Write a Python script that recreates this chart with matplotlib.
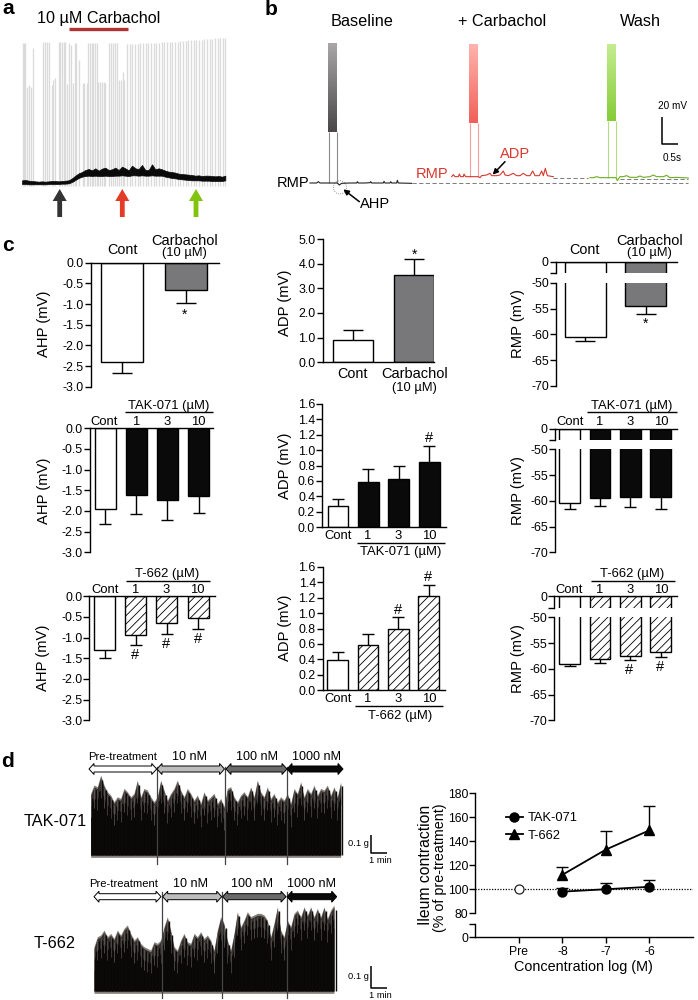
import numpy as np
import matplotlib
matplotlib.use('Agg')
import matplotlib.pyplot as plt
from matplotlib.colors import LinearSegmentedColormap
from matplotlib.patches import Polygon, Circle

plt.rcParams['font.family'] = ['Liberation Sans', 'DejaVu Sans']
plt.rcParams['hatch.linewidth'] = 0.6
W, H = 698, 1000

# ---------- panel a (trace units) ----------
spike_x = [68,72,76,82,88,94,100,130,135,140,147,155,160,165,177,181,186,192,196,201,207,212,220,225,229,236,
           248,253,260,265,270,275,280,285,290,295,300,305,311,316,328,334,340,346,352,358,363,368,373,
           381,389,397,405,413,421,429,437,445,453,461,469,477,485,493,501,509,517,525,533,541,549,557,565,
           573,581,589,597,605,613,621,629,637,645,653,661,669,675]
spike_top = [128,128,128,262,255,262,145,125,125,125,125,255,240,235,125,125,125,125,125,252,128,135,250,130,130,180,
             250,250,250,130,130,130,130,130,130,245,247,247,247,250,128,128,128,128,128,240,240,215,240,
             132,132,132,131,131,130,130,130,129,129,128,128,128,127,127,126,127,126,126,125,124,123,122,121,
             120,121,120,120,119,118,117,116,116,115,115,113,113,113]
trace_top = [541,540,542,543,544,545,544,545,544,543,543,544,543,542,541,535,527,520,516,510,
             507,511,505,512,506,503,510,508,503,510,500,505,511,497,505,507,495,510,510,493,
             508,505,508,512,515,516,518,521,522,523,524,525,527,526,528,527,527,528,529,528,530,527]
trace_bot = [552,552,553,553,553,553,553,553,552,552,552,552,551,551,550,546,540,534,530,528,
             527,528,527,528,528,527,528,528,527,527,526,527,528,526,526,527,526,527,527,526,
             527,527,527,530,532,534,535,537,538,539,540,541,541,541,542,542,542,543,543,543,543,541]

# ---------- panel b ----------
base_x = [150,170,175,180,205,207,232,238,245,270,290,292,295,315,330,332,335,370,372,375,390,392,395,410,412,415,455]
base_y = [549,549,545,549,549,549,549,555,550,549,549,545,549,549,548,545,549,549,544,549,549,545,549,549,541,549,550]
carb_x = [575,580,585,595,598,602,610,612,617,628,655,660,665,680,690,695,700,710,720,730,735,745,760,770,780,790,800,810,818,825,838,845,850,856,862,880]
carb_y = [530,524,530,530,522,530,530,522,530,530,530,533,527,525,520,527,527,527,525,513,525,527,520,527,527,520,527,527,513,527,527,513,527,505,527,530]
wash_x = [990,1000,1010,1020,1042,1068,1072,1080,1090,1100,1110,1130,1140,1150,1170,1180,1190,1210,1220,1230,1250,1285]
wash_y = [533,533,530,533,533,533,542,530,530,527,532,532,528,532,530,525,530,530,526,533,532,534]

# ---------- panel c ----------
ahp1 = [-2.4, -0.66];  ahp1_err = [0.26, 0.31]
adp1 = [0.92, 3.52];   adp1_err = [0.40, 0.65]
rmp1 = [-60.5, -54.6]; rmp1_err = [0.7, 1.4]
ahp2 = [-1.95,-1.62,-1.73,-1.63]; ahp2_err = [0.37,0.46,0.49,0.42]
adp2 = [0.27,0.59,0.63,0.84];     adp2_err = [0.10,0.17,0.17,0.21]
rmp2 = [-60.5,-59.4,-59.2,-59.2]; rmp2_err = [1.0,1.6,2.0,2.4]
ahp3 = [-1.3,-0.94,-0.65,-0.52];  ahp3_err = [0.2,0.24,0.25,0.28]
adp3 = [0.39,0.58,0.8,1.22];      adp3_err = [0.11,0.15,0.15,0.14]
rmp3 = [-59.1,-58.1,-57.6,-56.8]; rmp3_err = [0.4,0.7,0.7,0.9]
doses = ['1', '3', '10']

# ---------- panel d ----------
tak_top = [100,75,80,45,75,95,105,125,110,115,85,95,110,100,60,110,85,90,110,125,110,60,90,120,100,85,60,90,110,85,100,120,105,130,95,120,110,100,130,115,140,85,80,110,125,105,95,110,80,110,60,95,110,80,115,100,125,110,120,100,130,85,100,65,110,85,100,75,105,85,90,75,105,80,110,65]
t662_top = [560,530,525,510,530,520,535,510,525,505,495,520,540,530,550,560,565,570,545,550,540,500,470,510,560,570,540,520,545,550,520,530,515,535,525,540,570,510,470,490,540,570,520,455,500,480,455,470,465,460,460,465,480,530,490,440,510,530,480,500,460,450,470,440,465,440,470,445,470,440,475,450,435]
conc = [-8, -7, -6]
tak_mean = [98, 100, 102];   tak_err = [3, 5.5, 5.5]
t662_mean = [112, 133, 149]; t662_err = [6.5, 15, 20]

fig = plt.figure(figsize=(W/100, H/100), dpi=100)

def axpx(x0, y0, x1, y1, **kw):
    return fig.add_axes([x0/W, 1-y1/H, (x1-x0)/W, (y1-y0)/H], **kw)

pix = axpx(0, 0, W, H)
pix.set_xlim(0, W); pix.set_ylim(H, 0); pix.axis('off'); pix.set_zorder(10); pix.patch.set_alpha(0)

def T(x, y, s, size=9.4, ha='center', va='center', **kw):
    return pix.text(x, y, s, fontsize=size, ha=ha, va=va, **kw)

def L(xs, ys, lw=1.0, c='k', **kw):
    pix.plot(xs, ys, lw=lw, color=c, solid_capstyle='butt', **kw)

for s, x, y in [('a', 2, 14), ('b', 265, 15), ('c', 2, 251), ('d', 1, 767)]:
    T(x, y, s, size=15, ha='left', va='baseline', fontweight='bold')

# ---- a ----
axa = axpx(0, 0, 250, 210); axa.set_xlim(0, 750); axa.set_ylim(630, 0); axa.axis('off')
axa.vlines(spike_x, spike_top, 558, color='#dadada', lw=0.95, zorder=1)
tx = 66 + 10*np.arange(len(trace_top))
axa.fill_between(tx, trace_top, trace_bot, color='#0a0a0a', lw=0.5, zorder=3)
T(98.5, 18, '10 µM Carbachol', size=11.6)
L([69, 127.7], [29, 29], lw=2.4, c='#b03434')

def up_arrow(x, c):
    pix.add_patch(Polygon([(x-2.4,217),(x-2.4,201),(x-7,201),(x,189),(x+7,201),(x+2.4,201),(x+2.4,217)], fc=c, ec='none'))
up_arrow(59.7, '#333333'); up_arrow(122.3, '#e23b28'); up_arrow(196, '#82c30e')

# ---- b ----
axb = axpx(260, 0, 698, 210); axb.set_xlim(0, 1314); axb.set_ylim(630, 0); axb.axis('off')
def burst(x0, x1, top, bot, rmp, c_top, c_bot, thin):
    cm = LinearSegmentedColormap.from_list('g', [c_top, c_bot])
    axb.imshow(np.linspace(0, 1, 60)[:, None], extent=(x0, x1, bot, top), cmap=cm, aspect='auto', zorder=2)
    axb.vlines([x0+2, x1-1], bot, rmp, color=thin, lw=0.8, zorder=1)
burst(205, 232, 130, 397, 549, '#a8a6a6', '#4a4848', '#8a8a8a')
burst(628, 655, 135, 370, 530, '#ffb3ad', '#f2605a', '#f4a09a')
burst(1042, 1068, 132, 362, 533, '#c4ec90', '#86cc38', '#b2de80')
axb.set_xlim(0, 1314); axb.set_ylim(630, 0)
axb.plot(base_x, base_y, color='#222222', lw=0.8)
axb.plot(carb_x, carb_y, color='#d8382e', lw=0.8)
axb.plot(wash_x, wash_y, color='#6aae1e', lw=0.8)
axb.plot([455, 1285], [550, 550], color='#666666', lw=0.6, ls=(0, (5, 3)))
axb.plot([880, 985], [533, 533], color='#666666', lw=0.6, ls=(0, (5, 3)))
axb.plot([1080, 1285], [536, 536], color='#666666', lw=0.6, ls=(0, (5, 3)))
axb.add_patch(Circle((240, 562), 20, fc='none', ec='#6a6a90', lw=0.6, ls=':'))
T(361.7, 21, 'Baseline', size=11.7); T(502, 21, '+ Carbachol', size=11.7); T(640.7, 21, 'Wash', size=11.7)
T(309.5, 182.7, 'RMP', size=10.5, ha='right')
T(448.5, 174, 'RMP', size=10.5, ha='right', color='#d8382e')
T(515, 154, 'ADP', size=10.5, color='#d8382e')
T(375, 203.5, 'AHP', size=10.5)
axb.annotate('', xy=(250, 568), xytext=(298, 605), arrowprops=dict(arrowstyle='-|>', color='k', lw=1.1, mutation_scale=8, shrinkA=0, shrinkB=0))
axb.annotate('', xy=(698, 524), xytext=(735, 485), arrowprops=dict(arrowstyle='-|>', color='k', lw=1.1, mutation_scale=8, shrinkA=0, shrinkB=0))
T(672.3, 106, '20 mV', size=7.2); T(672.3, 158, '0.5s', size=7.2)
L([662.3, 662.3, 677.7], [117.3, 144, 144], lw=1.1)

# ---- c helpers ----
def whisk(ax, xs, vals, errs, sign, cap, lw=1.0):
    for x, v, e in zip(xs, vals, errs):
        ax.plot([x, x], [v, v+sign*e], color='k', lw=lw, zorder=1.5, solid_capstyle='butt')
        ax.plot([x], [v+sign*e], marker='_', color='k', ms=cap, mew=lw, zorder=1.5)

def style(ax, spines):
    for s in ax.spines:
        ax.spines[s].set_visible(s in spines)
        ax.spines[s].set_linewidth(1.0)
    ax.patch.set_alpha(0)
    ax.tick_params(axis='y', length=4, width=1.0, labelsize=8.9, pad=1)
    ax.set_xticks([])

def xpos(axleft, axright, c0, dx):
    return ((axleft-c0)/dx, (axright-c0)/dx)

def draw_bars(ax, vals, colors, hatches, wid):
    xs = np.arange(len(vals))
    for x, v, c, h in zip(xs, vals, colors, hatches):
        ax.bar(x, v, width=wid, facecolor=c, edgecolor='k', lw=1.0, hatch=h, zorder=1)
    return xs

def neg_panel(left, right, ytop, ybot, c0, dx, wid, vals, errs, colors, hatches, cap):
    ax = axpx(left, ytop, right, ybot)
    ax.set_xlim(*xpos(left, right, c0, dx)); ax.set_ylim(-3, 0)
    xs = draw_bars(ax, vals, colors, hatches, wid/dx)
    whisk(ax, xs, vals, errs, -1, cap)
    style(ax, ['left', 'top'])
    ax.set_yticks(np.arange(-3, 0.01, 0.5)); ax.set_yticklabels(['%.1f' % v for v in np.arange(-3, 0.01, 0.5)])
    return ax

def pos_panel(left, right, ytop, ybot, c0, dx, wid, vals, errs, colors, hatches, cap, ymax, step):
    ax = axpx(left, ytop, right, ybot)
    ax.set_xlim(*xpos(left, right, c0, dx)); ax.set_ylim(0, ymax)
    xs = draw_bars(ax, vals, colors, hatches, wid/dx)
    whisk(ax, xs, vals, errs, 1, cap)
    style(ax, ['left', 'bottom'])
    t = np.arange(0, ymax+0.01, step)
    ax.set_yticks(t); ax.set_yticklabels(['%.1f' % v for v in t])
    return ax

def rmp_panel(left, right, y0, ybrk, y50, y70, c0, dx, wid, vals, errs, colors, hatches, cap):
    up = axpx(left, y0, right, ybrk); lo = axpx(left, y50, right, y70)
    for ax in (up, lo):
        ax.set_xlim(*xpos(left, right, c0, dx))
        draw_bars(ax, vals, colors, hatches, wid/dx)
    up.set_ylim(-10, 0); lo.set_ylim(-70, -50)
    whisk(lo, np.arange(len(vals)), vals, errs, -1, cap)
    style(up, ['left', 'top']); style(lo, ['left'])
    up.set_yticks([-10, 0]); up.set_yticklabels(['', '0'])
    lo.set_yticks([-70, -65, -60, -55, -50]); lo.set_yticklabels(['-70', '-65', '-60', '-55', '-50'])

G = '#78787b'
c2 = ['white', '#0a0a0a', '#0a0a0a', '#0a0a0a']
h3 = ['', '////', '////', '////']
c3 = ['white'] * 4
h1 = ['', '']; h0 = ['']*4

neg_panel(90.7, 218.7, 262.7, 386.7, 122, 63.5, 42, ahp1, ahp1_err, ['white', G], h1, 15)
neg_panel(90, 213, 428.3, 552.3, 105.2, 31.1, 21, ahp2, ahp2_err, c2, h0, 8)
neg_panel(89.3, 215, 596.3, 720.3, 104.5, 31.2, 21, ahp3, ahp3_err, c3, h3, 8)
pos_panel(322.7, 434.3, 239, 362.3, 353, 60.8, 40.3, adp1, adp1_err, ['white', G], h1, 15, 5, 1)
pos_panel(322, 445.7, 403.7, 527.3, 338, 30.4, 20.7, adp2, adp2_err, c2, h0, 8, 1.6, 0.2)
pos_panel(322.7, 445, 566.7, 690.3, 337.7, 30.3, 20.7, adp3, adp3_err, c3, h3, 8, 1.6, 0.2)
rmp_panel(555.7, 677, 262, 273.3, 282.7, 386, 585.3, 60.2, 40.7, rmp1, rmp1_err, ['white', G], h1, 15)
rmp_panel(554.7, 676.7, 428.7, 440, 449.3, 552.3, 569.7, 30.3, 20.8, rmp2, rmp2_err, c2, h0, 8)
rmp_panel(554.3, 676.7, 596.3, 608, 617.3, 720.3, 569.7, 30.3, 20.8, rmp3, rmp3_err, c3, h3, 8)

# y labels
for x, y, s in [(44, 324, 'AHP (mV)'), (44, 490.7, 'AHP (mV)'), (43, 658.3, 'AHP (mV)'),
                (284.5, 302.7, 'ADP (mV)'), (284.5, 465.7, 'ADP (mV)'), (285, 628, 'ADP (mV)'),
                (518.3, 324, 'RMP (mV)'), (518.3, 490.7, 'RMP (mV)'), (518.3, 659, 'RMP (mV)')]:
    T(x, y, s, size=10.6, rotation=90)

# row 1 labels
for x, y in [(122.3, 250), (584.3, 250), (352.7, 374)]:
    T(x, y, 'Cont', size=10.4)
for x, y1, y2 in [(184.3, 240.7, 253.3), (649.3, 240.7, 253.3), (414.3, 374, 388)]:
    T(x, y1, 'Carbachol', size=10.5); T(x, y2, '(10 µM)', size=9.3)
for x, y in [(185, 315), (414.3, 255), (646, 324)]:
    T(x, y, '*', size=10)

# group labels rows 2, 3
def group(name, nx, ny, lx0, lx1, ly, cx, cy):
    T(nx, ny, name, size=9.4)
    L([lx0, lx1], [ly, ly], lw=1.0)
    for x, s in zip(cx, ['Cont'] + doses):
        T(x, cy, s, size=9.4)
group('TAK-071 (µM)', 169, 405.7, 125, 213, 412.3, [104.3, 135.7, 167, 198.3], 422)
group('TAK-071 (µM)', 400.7, 552.3, 356.7, 445, 542.7, [337.7, 367, 398, 429.3], 535.7)
group('TAK-071 (µM)', 631.7, 405.7, 587.3, 676.7, 412.3, [570, 598.3, 630, 661], 422)
group('T-662 (µM)', 167, 574, 126, 210, 580.7, [105, 135, 165.7, 197.5], 590)
group('T-662 (µM)', 400, 716, 355, 443.3, 706, [338, 367, 397.7, 429], 699.3)
group('T-662 (µM)', 632.3, 574, 590.7, 675, 581, [569.3, 599, 630, 661], 590)
for x, y in [(135, 655), (165.7, 644), (198, 639), (429, 438), (398.3, 610), (427.7, 577.3), (629, 670), (660, 666.7)]:
    T(x, y, '#', size=10.5)

# ---- d traces ----
axd = axpx(0, 760, 400, 1000); axd.set_xlim(0, 1200); axd.set_ylim(720, 0); axd.axis('off')
def dense(top, x0, bottom):
    x = x0 + 10*np.arange(len(top))
    top = np.asarray(top, float)
    axd.fill_between(x, top, bottom+7, color='#85807c', lw=0, zorder=1)
    axd.fill_between(x, top+6, bottom, color='#36302d', lw=0, zorder=2)
    axd.vlines(x, top+10, top+70, color='#77716d', lw=0.4, zorder=3)
    axd.vlines(x+5, top+14, bottom, color='#0c0a09', lw=1.0, zorder=3)
    axd.fill_between(x, top+40, bottom, color='#0a0807', lw=0, zorder=2.5)
dense(tak_top, 272, 285)
dense(t662_top, 282, 693)
for x in [470, 675, 860]:
    axd.plot([x, x], [20, 312], color='#444444', lw=0.9, zorder=5)
for x in [486, 666, 860]:
    axd.plot([x, x], [395, 715], color='#444444', lw=0.9, zorder=5)

def dbl_arrow(x0, x1, y, fc):
    hw, sh, hl = 5.5, 3, 5
    pts = [(x0,y),(x0+hl,y-hw),(x0+hl,y-sh),(x1-hl,y-sh),(x1-hl,y-hw),(x1,y),(x1-hl,y+hw),(x1-hl,y+sh),(x0+hl,y+sh),(x0+hl,y+hw)]
    pix.add_patch(Polygon(pts, fc=fc, ec='k', lw=0.7, joinstyle='miter'))
for x0, x1, fc in [(89, 156.7, 'white'), (157, 224.5, '#bdbdbd'), (226, 287, '#6a6a6a'), (287, 343, '#0a0a0a')]:
    dbl_arrow(x0, x1, 769, fc)
for x0, x1, fc in [(94, 161, 'white'), (162.7, 221.7, '#bdbdbd'), (222.7, 286, '#6a6a6a'), (287, 336.7, '#0a0a0a')]:
    dbl_arrow(x0, x1, 896.7, fc)
for ys, xs in [(757, [123, 190, 257, 316]), (884, [124, 190.7, 252, 311.7])]:
    for x, s, sz in zip(xs, ['Pre-treatment', '10 nM', '100 nM', '1000 nM'], [8.1, 9.1, 9.1, 9.1]):
        T(x, ys, s, size=sz)
T(54.7, 822, 'TAK-071', size=11.7); T(55, 943, 'T-662', size=11.7)
L([370.7, 370.7, 386.7], [835, 852.7, 852.7], lw=1.1)
L([370.7, 370.7, 387.3], [966, 988, 988], lw=1.1)
T(368.5, 843, '0.1 g', size=6.7, ha='right'); T(380, 860.5, '1 min', size=6.7)
T(368.5, 976.7, '0.1 g', size=6.7, ha='right'); T(380, 995, '1 min', size=6.7)

# ---- d line plot ----
up = axpx(475.3, 793, 693, 913.3); lo = axpx(475.3, 924.3, 693, 937.3)
for ax in (up, lo):
    ax.set_xlim(-10, -5)
    for s in ax.spines:
        ax.spines[s].set_visible(s == 'left'); ax.spines[s].set_linewidth(1.0)
    ax.patch.set_alpha(0)
    ax.tick_params(axis='y', length=4, width=1.0, labelsize=8.7, pad=1)
up.set_ylim(80, 180); up.set_yticks(np.arange(80, 181, 20)); up.set_xticks([])
lo.spines['bottom'].set_visible(True); lo.spines['bottom'].set_linewidth(1.0)
lo.set_ylim(0, 10); lo.set_yticks([0, 10]); lo.set_yticklabels(['0', ''])
lo.set_xticks([-9, -8, -7, -6]); lo.set_xticklabels(['Pre', '-8', '-7', '-6'])
lo.tick_params(axis='x', length=4, width=1.0, labelsize=8.7, pad=2)
up.axhline(100, color='k', lw=0.9, ls=(0, (1, 1.2)), zorder=1)
whisk(up, conc, tak_mean, tak_err, 1, 8)
whisk(up, conc, t662_mean, t662_err, 1, 8)
l1, = up.plot(conc, tak_mean, '-o', color='k', lw=1.3, ms=6.5, zorder=3, label='TAK-071')
l2, = up.plot(conc, t662_mean, '-^', color='k', lw=1.3, ms=7, zorder=3, label='T-662')
up.plot([-9], [100], 'o', mfc='white', mec='#222222', mew=0.9, ms=6.5, zorder=3)
up.legend(handles=[l1, l2], frameon=False, fontsize=9.3, handlelength=1.3, handletextpad=0.35,
          labelspacing=0.42, borderpad=0, borderaxespad=0, loc='upper left',
          bbox_to_anchor=(506, 812), bbox_transform=pix.transData)
T(426, 865, 'Ileum contraction', size=11.3, rotation=90)
T(440, 868, '(% of pre-treatment)', size=10.3, rotation=90)
T(583, 966.7, 'Concentration log (M)', size=10.4)

fig.savefig('out.png', dpi=100)
